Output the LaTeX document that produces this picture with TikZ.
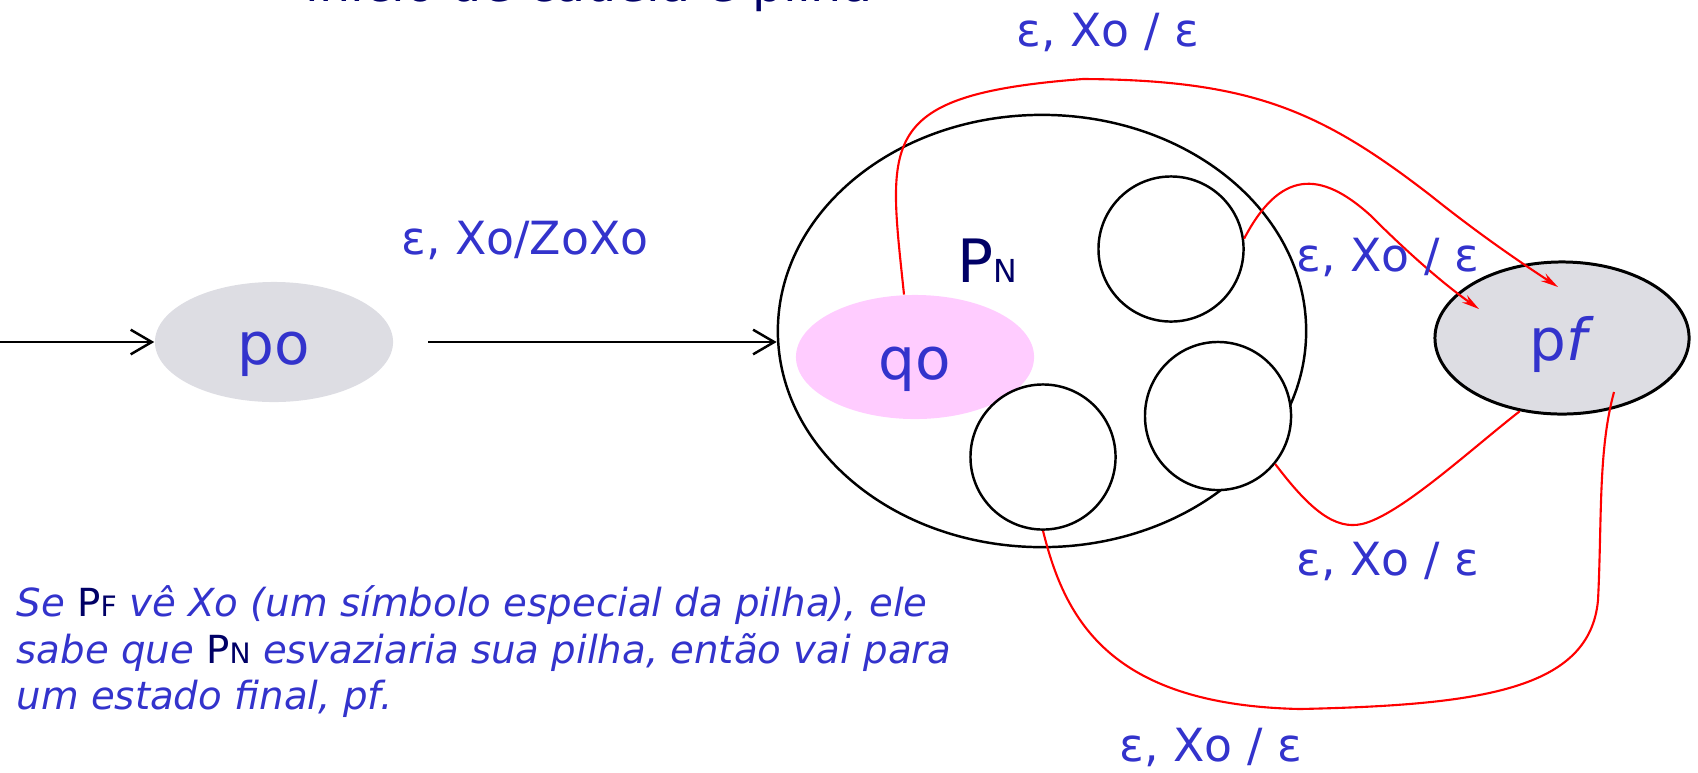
\documentclass[tikz,border=0pt]{standalone}
\usepackage{fontspec}
\setmainfont{DejaVu Sans}
\usepackage{tikz}
\usetikzlibrary{arrows.meta, shapes, calc, positioning}
\usepackage{xcolor}
\definecolor{txtblue}{RGB}{51,51,204}
\definecolor{navy}{RGB}{0,0,102}
\definecolor{stategray}{RGB}{221,221,227}
\definecolor{qpink}{RGB}{255,204,255}

\newcommand{\pname}[1]{{\upshape\color{navy}P{\fontsize{8}{8}\selectfont #1}}}

\tikzset{
  state/.style={ellipse, inner sep=0pt, text=txtblue, font=\fontsize{16.5}{16.5}\selectfont, text height=13pt, text depth=0pt},
  inner/.style={ellipse, draw, fill=white, line width=0.7pt, minimum width=1.45cm, minimum height=1.45cm},
  trans/.style={red, line width=0.6pt},
  lbl/.style={text=txtblue, font=\fontsize{13}{13}\selectfont},
}

\begin{document}
\begin{tikzpicture}[x=0.01cm, y=-0.01cm]
  \useasboundingbox (0,0) rectangle (1698,772);

  % heading, cut off at the top
  \begin{scope}
    \clip (0,0) rectangle (1698,772);
    \node[text=navy, font=\fontsize{14}{14}\selectfont, anchor=base] (head) at (589,1) {início de cadeia e pilha};
  \end{scope}

  % states
  \node[state, fill=stategray, minimum width=2.38cm, minimum height=1.2cm] (po) at (274,342) {po};
  \node[ellipse, draw, line width=0.7pt, minimum width=5.28cm, minimum height=4.32cm] (PN) at (1042,331) {};
  \node[state, fill=qpink, minimum width=2.38cm, minimum height=1.24cm] (qo) at (915,357) {qo};
  \node[text=navy, font=\fontsize{17}{17}\selectfont] (pnlabel) at (987,261) {P{\fontsize{9}{9}\selectfont N}};
  \node[inner] (c1) at (1171,249) {};
  \node[inner, minimum width=1.46cm, minimum height=1.48cm] (c2) at (1218,416) {};
  \node[inner] (c3) at (1043,457) {};
  \node[state, draw=black, fill=stategray, line width=0.85pt, minimum width=2.54cm, minimum height=1.52cm] (pf) at (1562,338) {p\textit{f}};

  % entry and first move
  \coordinate (start) at (0,342);
  \coordinate (pstart) at (428,342);
  \draw[-{Straight Barb[length=6pt,width=7pt]}, line width=0.7pt] (start) -- (po.west);
  \draw[-{Straight Barb[length=6pt,width=7pt]}, line width=0.7pt] (pstart) -- (pstart -| PN.west);
  \node[lbl] (l0) at (525,240) {ε, Xo/ZoXo};

  % moves into pf
  \draw[trans, -{Stealth[length=5pt,width=2.5pt]}] (qo.100) .. controls (888,140) and (875,95) .. (1083,79)
    .. controls (1250,80) and (1320,110) .. (1430,195) .. controls (1480,235) and (1520,262) .. ($(pf)+(-4,-51)$);
  \draw[trans, -{Stealth[length=5pt,width=2.5pt]}] (c1.8) .. controls (1280,170) and (1320,170) .. (1370,215)
    .. controls (1410,255) and (1445,285) .. ($(pf)+(-83,-29)$);
  \draw[trans] (c2.-40) .. controls (1310,510) and (1335,530) .. (1362,524)
    .. controls (1400,515) and (1470,450) .. (pf.240);
  \draw[trans] (c3.south) .. controls (1065,620) and (1110,705) .. (1300,709)
    .. controls (1480,705) and (1590,690) .. (1598,600) .. controls (1602,520) and (1598,450) .. ($(pf)+(52,54)$);

  \node[lbl] (l1) at (1108,32) {ε, Xo / ε};
  \node[lbl] (l2) at (1388,257) {ε, Xo / ε};
  \node[lbl] (l3) at (1388,561) {ε, Xo / ε};
  \node[lbl] (l4) at (1211,747) {ε, Xo / ε};

  % note
  \node[anchor=north west, align=left, inner sep=0pt, text=txtblue, font=\fontsize{11}{13.2}\selectfont\itshape] (note) at (16,585)
    {Se \pname{F} vê Xo (um símbolo especial da pilha), ele\\
     sabe que \pname{N} esvaziaria sua pilha, então vai para\\
     um estado final, pf.};
\end{tikzpicture}
\end{document}
